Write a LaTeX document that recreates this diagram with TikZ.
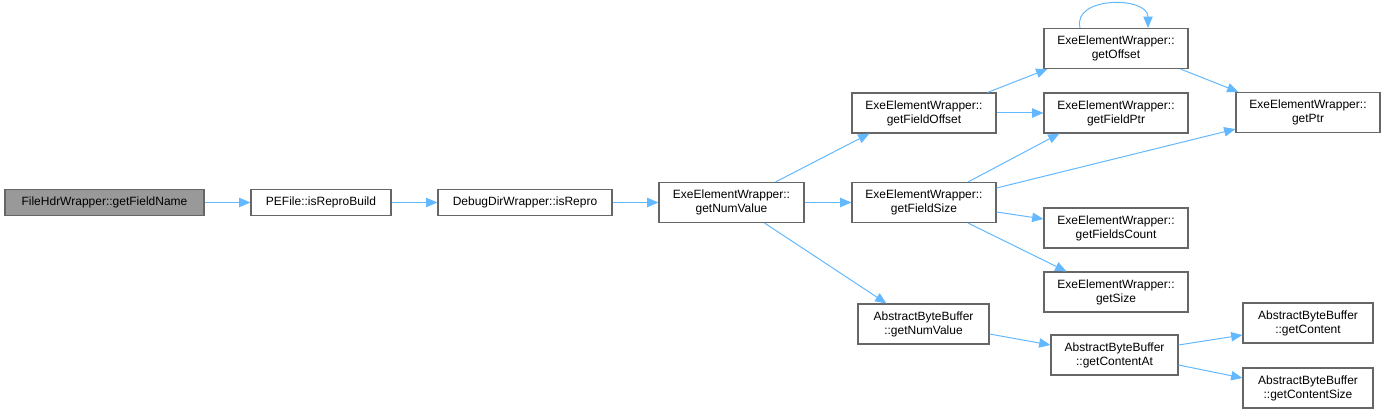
\documentclass[tikz,border=0pt]{standalone}
\usepackage{fontspec}
\setmainfont{Liberation Sans}
\usetikzlibrary{arrows.meta,calc}
\newdimen\pxu
\pxu=0.75pt
\definecolor{edgeblue}{HTML}{63B8FF}
\definecolor{boxgray}{HTML}{666666}
\definecolor{fillgray}{HTML}{999999}
\tikzset{
  fn/.style={draw=boxgray, line width=0.8pt, fill=white, inner sep=0pt, align=center,
    font=\fontsize{9pt}{10.4pt}\selectfont, text=black},
  one/.style={fn, minimum height=19.5pt},
  two/.style={fn, minimum height=30pt},
  edge/.style={draw=edgeblue, line width=0.75pt, -{Triangle[length=8.5pt,width=7pt]}}
}
\begin{document}
\begin{tikzpicture}[x=0.75pt,y=-0.75pt]
\useasboundingbox (0,0) rectangle (1385,413);
\node[one, fill=fillgray, minimum width=199\pxu] (n1) at (104.5,202.5) {FileHdrWrapper::getFieldName};
\node[one, minimum width=140\pxu] (n2) at (321,202.5) {PEFile::isReproBuild};
\node[one, minimum width=174\pxu] (n3) at (525,202.5) {DebugDirWrapper::isRepro};
\node[two, minimum width=145\pxu] (n4) at (731.5,202.5) {ExeElementWrapper::\\getNumValue};
\node[two, minimum width=144\pxu] (n5) at (924,113) {ExeElementWrapper::\\getFieldOffset};
\node[two, minimum width=144\pxu] (n6) at (924,202.5) {ExeElementWrapper::\\getFieldSize};
\node[two, minimum width=131\pxu] (n7) at (923.5,324) {AbstractByteBuffer\\::getNumValue};
\node[two, minimum width=144\pxu] (n8) at (1116,48.5) {ExeElementWrapper::\\getOffset};
\node[two, minimum width=144\pxu] (n9) at (1116,113) {ExeElementWrapper::\\getFieldPtr};
\node[two, minimum width=144\pxu] (n10) at (1116,228) {ExeElementWrapper::\\getFieldsCount};
\node[two, minimum width=144\pxu] (n11) at (1116,292) {ExeElementWrapper::\\getSize};
\node[two, minimum width=127\pxu] (n12) at (1114.5,355) {AbstractByteBuffer\\::getContentAt};
\node[two, minimum width=144\pxu] (n13) at (1308,112.5) {ExeElementWrapper::\\getPtr};
\node[two, minimum width=130\pxu] (n14) at (1308,323) {AbstractByteBuffer\\::getContent};
\node[two, minimum width=130\pxu] (n15) at (1308,388) {AbstractByteBuffer\\::getContentSize};

\draw[edge] (n1.east) -- (n2.west);
\draw[edge] (n2.east) -- (n3.west);
\draw[edge] (n3.east) -- (n4.west);
\draw[edge] ($(n4.north)+(44,0)$) -- ($(n5.south west)+(18,0)$);
\draw[edge] (n4.east) -- (n6.west);
\draw[edge] ($(n4.south)+(33,0)$) -- ($(n7.north west)+(29,0)$);
\draw[edge] ($(n5.north east)+(-9,0)$) -- ($(n8.south west)+(4,0)$);
\draw[edge] (n5.east) -- (n9.west);
\draw[edge] ($(n6.north)+(44,0)$) -- ($(n9.south west)+(16,0)$);
\draw[edge] ($(n6.east)+(0,-14.5)$) -- ($(n13.south west)+(0,-4)$);
\draw[edge] ($(n6.east)+(0,9.5)$) -- ($(n10.west)+(0,-9)$);
\draw[edge] ($(n6.south)+(44,0)$) -- ($(n11.north west)+(23,0)$);
\draw[edge] ($(n8.north)+(-36,0)$) .. controls ($(n8.north)+(-44,-32)$) and ($(n8.north)+(32,-32)$) .. ($(n8.north)+(32,0)$);
\draw[edge] ($(n8.south east)+(-8,0)$) -- ($(n13.north west)+(3,0)$);
\draw[edge] ($(n7.east)+(0,10)$) -- ($(n12.west)+(0,-10)$);
\draw[edge] ($(n12.east)+(0,-10)$) -- ($(n14.west)+(0,12)$);
\draw[edge] ($(n12.east)+(0,10)$) -- ($(n15.west)+(0,-10)$);
\end{tikzpicture}
\end{document}
